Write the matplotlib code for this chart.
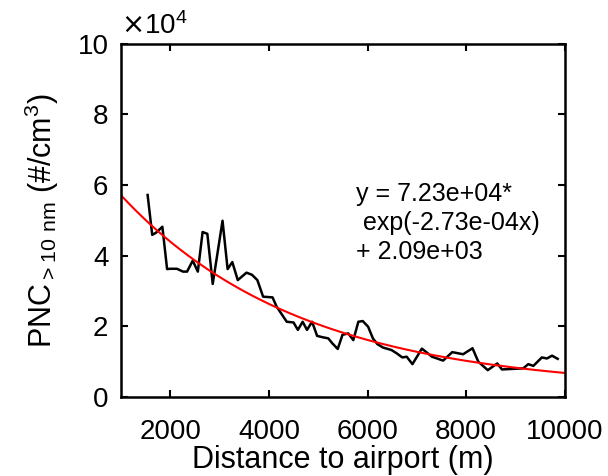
import numpy as np
import matplotlib
matplotlib.use('Agg')
import matplotlib.pyplot as plt

plt.rcParams['font.family'] = ['Liberation Sans', 'DejaVu Sans']

# measured PNC (>10 nm) vs distance to airport
dist = [1540, 1633, 1709, 1839, 1935, 1997, 2134, 2257, 2340, 2455, 2558, 2655,
        2751, 2860, 3059, 3162, 3257, 3368, 3545, 3656, 3765, 3882, 4073, 4155,
        4361, 4498, 4587, 4683, 4772, 4875, 4977, 5094, 5203, 5285, 5395, 5491,
        5608, 5711, 5813, 5902, 6011, 6108, 6196, 6313, 6484, 6587, 6704, 6793,
        6910, 7101, 7306, 7532, 7717, 7937, 8128, 8245, 8437, 8630, 8724, 9156,
        9259, 9362, 9534, 9637, 9740, 9855]
pnc = [5.72, 4.59, 4.65, 4.82, 3.62, 3.63, 3.63, 3.55, 3.55, 3.86, 3.55, 4.67,
       4.62, 3.20, 4.99, 3.62, 3.82, 3.31, 3.52, 3.46, 3.31, 2.84, 2.82, 2.56,
       2.13, 2.11, 1.90, 2.13, 1.90, 2.13, 1.73, 1.69, 1.66, 1.52, 1.36, 1.76,
       1.80, 1.61, 2.13, 2.15, 1.99, 1.66, 1.50, 1.40, 1.33, 1.24, 1.12, 1.14,
       0.93, 1.37, 1.14, 1.03, 1.27, 1.21, 1.38, 1.00, 0.76, 0.95, 0.78, 0.81,
       0.93, 0.88, 1.12, 1.09, 1.17, 1.08]
pnc = np.array(pnc) * 1e4

# exponential fit parameters
fit_a, fit_b, fit_c = 7.23e4, -2.73e-4, 2.09e3
xfit = np.linspace(1000, 10000, 300)
yfit = fit_a * np.exp(fit_b * xfit) + fit_c

fig = plt.figure(figsize=(6.08, 4.76), dpi=100)
ax = fig.add_axes([0.199, 0.166, 0.73, 0.742])

ax.plot(dist, pnc, color='black', lw=1.8)
ax.plot(xfit, yfit, color='red', lw=1.5)

ax.set_xlim(1000, 10000)
ax.set_ylim(0, 1e5)
ax.set_xticks([2000, 4000, 6000, 8000, 10000])
ax.set_yticks(np.arange(0, 100001, 20000))
ax.set_yticklabels(['0', '2', '4', '6', '8', '10'])
ax.tick_params(direction='in', top=True, right=True, labelsize=20,
               length=5, width=1.5)
ax.tick_params(axis='x', pad=16)
ax.tick_params(axis='y', pad=9)
for s in ax.spines.values():
    s.set_linewidth(1.8)

ax.set_xlabel('Distance to airport (m)', fontsize=22, labelpad=0)
ax.set_ylabel(r'PNC$_{\mathregular{> 10\ nm}}$ (#/cm$^{\mathregular{3}}$)', fontsize=22, labelpad=12)
ax.text(0.0, 1.012, r'$\times\mathregular{10^4}$', transform=ax.transAxes,
        fontsize=20, ha='left', va='bottom')

ax.text(0.53, 0.61, 'y = 7.23e+04*\n exp(-2.73e-04x)\n+ 2.09e+03',
        transform=ax.transAxes, fontsize=18, ha='left', va='top',
        linespacing=1.27)

fig.savefig('out.png', dpi=100)
